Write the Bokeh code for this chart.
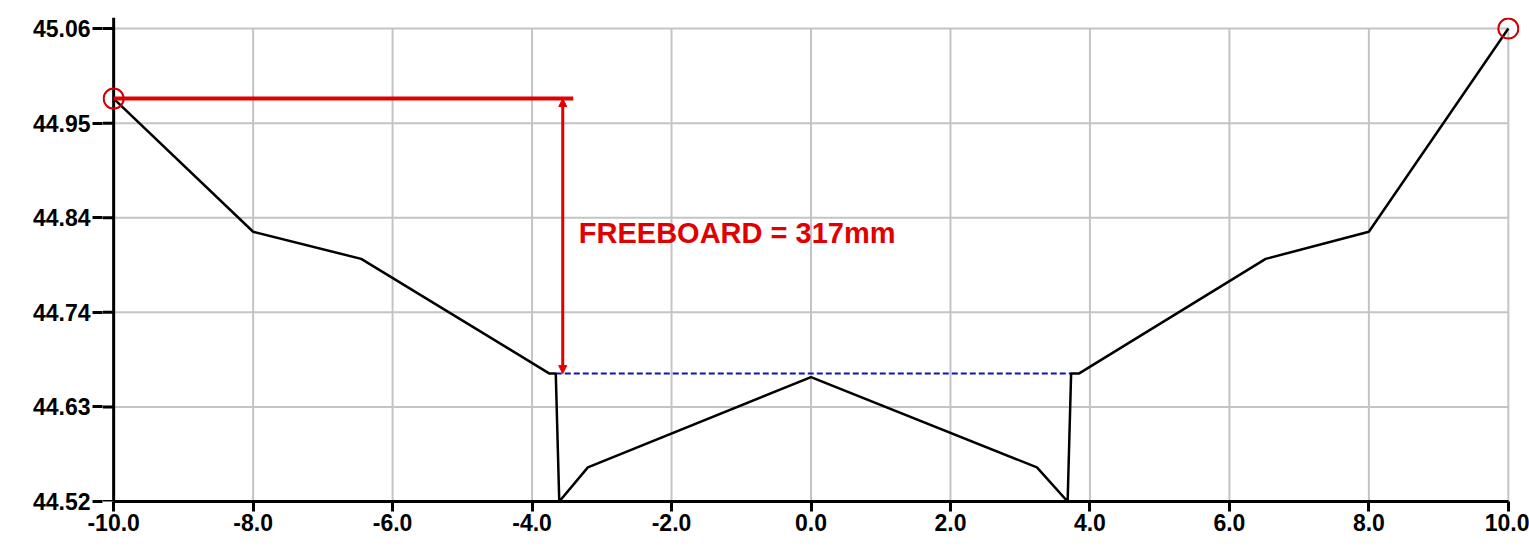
from bokeh.plotting import figure
from bokeh.models import FixedTicker, Label, Arrow, NormalHead, Range1d
from bokeh.embed import file_html
from bokeh.resources import INLINE

# ---- data ----
x_ticks = [-10, -8, -6, -4, -2, 0, 2, 4, 6, 8, 10]
y_ticks = [44.52, 44.628, 44.736, 44.844, 44.952, 45.06]
y_labels = ["44.52", "44.63", "44.74", "44.84", "44.95", "45.06"]

profile_x = [-10.0, -8.0, -6.45, -3.75, -3.66, -3.61, -3.20, 0.0, 3.24, 3.68, 3.73, 3.84, 6.52, 8.0, 10.0]
profile_y = [44.980, 44.828, 44.797, 44.666, 44.666, 44.520, 44.559, 44.662, 44.559, 44.520, 44.666, 44.666, 44.797, 44.828, 45.060]

water_x = [-3.66, 3.73]
water_level = 44.666

bank_x = [-10.0, 10.0]
bank_y = [44.980, 45.060]

freeboard_x = -3.56
freeboard_line_end = -3.41
freeboard_text = "FREEBOARD = 317mm"
label_x = -3.33
label_y = 44.827

FONT = "Liberation Sans"
RED = "#e00000"
GRID = "#c4c4c4"

x_lo, x_hi = x_ticks[0], x_ticks[-1]
y_lo, y_hi = y_ticks[0], y_ticks[-1]

xr = Range1d(x_lo - 0.16, x_hi + 0.16)
yr = Range1d(y_lo, 45.0726)
p = figure(width=1529, height=549, output_backend="svg", toolbar_location=None,
           x_range=xr, y_range=yr,
           min_border_left=102, min_border_right=10, min_border_top=17, min_border_bottom=48)
p.outline_line_color = None
p.background_fill_color = "white"
p.xgrid.visible = False
p.ygrid.visible = False

for ax in (p.xaxis[0], p.yaxis[0]):
    ax.axis_line_width = 3
    ax.axis_line_color = "black"
    ax.major_tick_line_width = 3
    ax.major_tick_line_color = "black"
    ax.major_tick_in = 0
    ax.minor_tick_line_color = None
    ax.major_label_text_font = FONT
    ax.major_label_text_font_style = "bold"
    ax.major_label_text_font_size = "23px"
    ax.major_label_text_color = "black"

p.xaxis.ticker = FixedTicker(ticks=x_ticks)
p.xaxis.major_label_overrides = {t: f"{t:.1f}" for t in x_ticks}
p.xaxis.major_tick_out = 10
p.xaxis.major_label_standoff = 2
p.xaxis.bounds = (x_lo, x_hi)

p.yaxis.ticker = FixedTicker(ticks=y_ticks)
p.yaxis.major_label_overrides = dict(zip(y_ticks, y_labels))
p.yaxis.major_tick_out = 10
p.yaxis.major_label_standoff = 2
p.yaxis.axis_line_color = None

# grid lines bounded to the data box
p.segment(x0=x_ticks, y0=[y_lo] * len(x_ticks), x1=x_ticks, y1=[y_hi] * len(x_ticks),
          line_color=GRID, line_width=2)
p.segment(x0=[x_lo] * len(y_ticks), y0=y_ticks, x1=[x_hi] * len(y_ticks), y1=y_ticks,
          line_color=GRID, line_width=2)

# y axis line at x = -10 and the inner part of its tick marks
p.segment(x0=[x_lo], y0=[yr.start], x1=[x_lo], y1=[yr.end], line_color="black", line_width=3)
p.segment(x0=[xr.start] * len(y_ticks), y0=y_ticks, x1=[x_lo] * len(y_ticks), y1=y_ticks,
          line_color="black", line_width=3)

# water level
p.line(water_x, [water_level, water_level], line_color="#1010c0", line_width=2, line_dash="6 3")

# ground profile
p.line(profile_x, profile_y, line_color="black", line_width=2.5)

# freeboard dimension
p.line([bank_x[0], freeboard_line_end], [bank_y[0], bank_y[0]], line_color=RED, line_width=4)
p.add_layout(Arrow(start=NormalHead(size=8, fill_color=RED, line_color=RED),
                   end=NormalHead(size=8, fill_color=RED, line_color=RED),
                   x_start=freeboard_x, y_start=bank_y[0], x_end=freeboard_x, y_end=water_level,
                   line_color=RED, line_width=3))
p.add_layout(Label(x=label_x, y=label_y, text=freeboard_text, text_font=FONT,
                   text_font_style="bold", text_font_size="29px", text_color=RED,
                   text_baseline="alphabetic"))

# bank points
p.scatter(bank_x, bank_y, marker="circle", size=20, fill_color=None, line_color="#d00000", line_width=2)

open("out.html", "w").write(file_html(p, INLINE))
